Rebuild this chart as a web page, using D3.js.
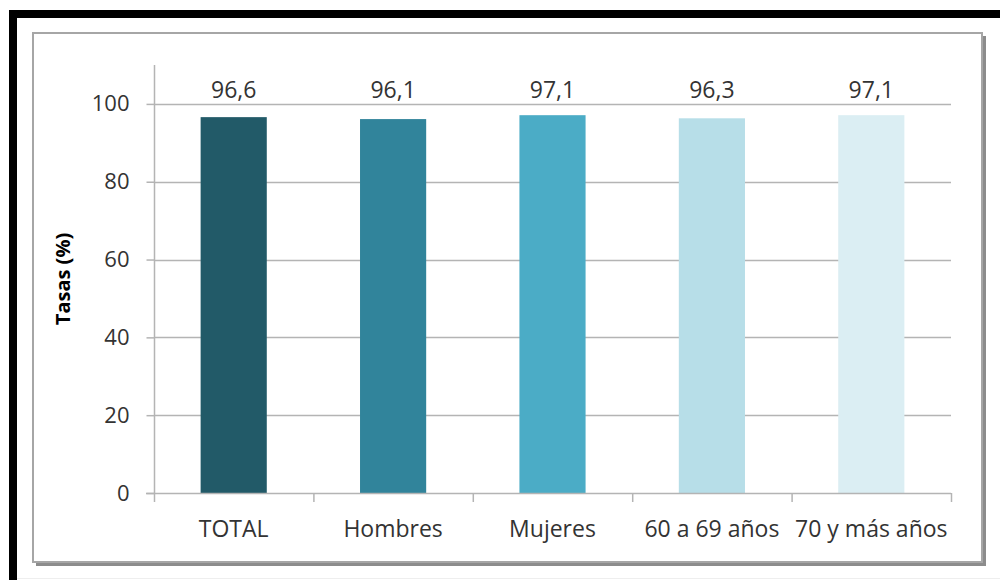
<!DOCTYPE html>
<html>
<head>
<meta charset="utf-8">
<script src="https://cdn.jsdelivr.net/npm/d3@7"></script>
<style>
  html, body { margin: 0; padding: 0; background: #fff; }
  svg { display: block; }
</style>
</head>
<body>
<svg id="chart" width="1000" height="580"></svg>
<script>
const categories = ["TOTAL", "Hombres", "Mujeres", "60 a 69 años", "70 y más años"];
const values = [96.6, 96.1, 97.1, 96.3, 97.1];
const barColors = ["#225a68", "#31849b", "#4bacc6", "#b7dee8", "#dbeef3"];
const yTicks = [0, 20, 40, 60, 80, 100];
const yTitle = "Tasas (%)";

const svg = d3.select("#chart");
const font = "'Open Sans', 'Noto Sans', sans-serif";

// frame
svg.append("rect").attr("x", 0).attr("y", 0).attr("width", 1000).attr("height", 580).attr("fill", "#fff");
svg.append("rect").attr("x", 9).attr("y", 10).attr("width", 991).attr("height", 8).attr("fill", "#000");
svg.append("rect").attr("x", 9).attr("y", 10).attr("width", 8).attr("height", 570).attr("fill", "#000");
svg.append("line").attr("x1", 17).attr("x2", 1000).attr("y1", 578.5).attr("y2", 578.5).attr("stroke", "#eeeeee").attr("stroke-width", 1);

// chart box with shadow
svg.append("line").attr("x1", 984.5).attr("x2", 984.5).attr("y1", 36).attr("y2", 566).attr("stroke", "#8c8c8c").attr("stroke-width", 3);
svg.append("line").attr("x1", 36).attr("x2", 986).attr("y1", 564.5).attr("y2", 564.5).attr("stroke", "#8c8c8c").attr("stroke-width", 3);
svg.append("rect").attr("x", 33).attr("y", 33).attr("width", 949).attr("height", 529)
  .attr("fill", "#fff").attr("stroke", "#a6a6a6").attr("stroke-width", 2);

const x = d3.scaleBand().domain(categories).range([154, 951]).paddingInner(0.585).paddingOuter(0.2925);
const y = d3.scaleLinear().domain([0, 110]).range([493, 65]);

// gridlines
svg.append("g").selectAll("line").data(yTicks.filter(d => d > 0)).join("line")
  .attr("x1", 154).attr("x2", 951)
  .attr("y1", d => Math.round(y(d)) + 0.5).attr("y2", d => Math.round(y(d)) + 0.5)
  .attr("stroke", "#b4b4b4").attr("stroke-width", 1.5);

// y axis
const yAxis = svg.append("g").attr("transform", "translate(154.5,0)")
  .call(d3.axisLeft(y).tickValues(yTicks).tickSize(8).tickPadding(17).tickFormat(d3.format("d")));
yAxis.select(".domain").attr("stroke", "#b4b4b4").attr("stroke-width", 1.5).attr("d", `M0,${y(110)}V${y(0)}`);
yAxis.selectAll(".tick line").attr("stroke", "#b4b4b4").attr("stroke-width", 1.5);
yAxis.selectAll(".tick text").attr("font-family", font).attr("font-size", 22).attr("fill", "#333");

// bars
svg.append("g").selectAll("rect").data(categories).join("rect")
  .attr("x", d => x(d)).attr("width", x.bandwidth())
  .attr("y", (d, i) => y(values[i])).attr("height", (d, i) => y(0) - y(values[i]))
  .attr("fill", (d, i) => barColors[i]);

// x axis line and boundary ticks
svg.append("line").attr("x1", 146).attr("x2", 951).attr("y1", y(0) + 0.5).attr("y2", y(0) + 0.5)
  .attr("stroke", "#b4b4b4").attr("stroke-width", 1.5);
const bounds = d3.range(categories.length + 1).map(i => x.range()[0] + i * x.step());
svg.append("g").selectAll("line").data(bounds).join("line")
  .attr("x1", d => d + 0.5).attr("x2", d => d + 0.5)
  .attr("y1", y(0)).attr("y2", y(0) + 9)
  .attr("stroke", "#b4b4b4").attr("stroke-width", 1.5);

// x labels
svg.append("g").selectAll("text").data(categories).join("text")
  .attr("x", d => x(d) + x.bandwidth() / 2).attr("y", 537)
  .attr("text-anchor", "middle").attr("font-family", font).attr("font-size", 23).attr("fill", "#333")
  .text(d => d);

// value labels
const loc = d3.formatLocale({ decimal: ",", thousands: ".", grouping: [3], currency: ["", "€"] });
const fmt = loc.format(".1f");
svg.append("g").selectAll("text").data(categories).join("text")
  .attr("x", d => x(d) + x.bandwidth() / 2).attr("y", 98)
  .attr("text-anchor", "middle").attr("font-family", font).attr("font-size", 23).attr("fill", "#333")
  .text((d, i) => fmt(values[i]));

// y title
svg.append("text")
  .attr("transform", `translate(70,${(y(0) + y(110)) / 2}) rotate(-90)`)
  .attr("text-anchor", "middle").attr("font-family", font).attr("font-size", 20).attr("font-weight", "bold").attr("fill", "#000")
  .text(yTitle);
</script>
</body>
</html>
